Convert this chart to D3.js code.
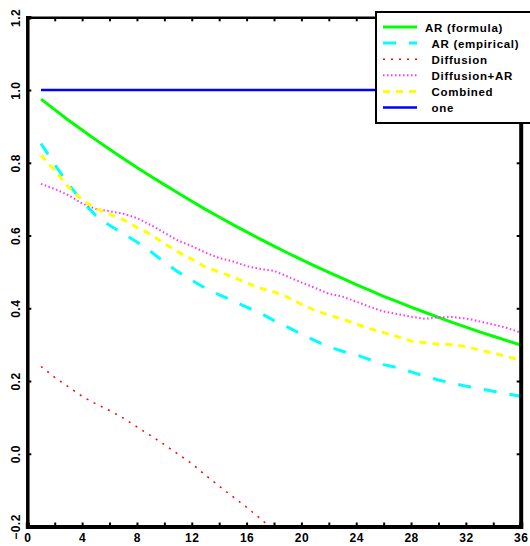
<!DOCTYPE html>
<html>
<head>
<meta charset="utf-8">
<script src="https://cdn.jsdelivr.net/npm/d3@7"></script>
<style>
body{margin:0;background:#fff;}
svg{display:block;}
text{font-family:"Liberation Sans",Arial,sans-serif;font-weight:bold;}
</style>
</head>
<body>
<div id="chart"></div>
<script>
(function(){

// data
const months = d3.range(1,37);
const arFormula = [0.975,0.946,0.917,0.890,0.863,0.837,0.812,0.787,0.763,0.740,0.717,0.694,
0.672,0.651,0.630,0.610,0.590,0.571,0.552,0.534,0.516,0.499,0.482,0.465,
0.449,0.433,0.418,0.403,0.389,0.375,0.361,0.348,0.335,0.323,0.311,0.299];
const arEmpirical = [0.853,0.795,0.742,0.694,0.655,0.628,0.605,0.582,0.556,0.527,0.500,0.477,
0.455,0.437,0.421,0.403,0.387,0.366,0.348,0.329,0.311,0.294,0.282,0.272,
0.259,0.245,0.237,0.225,0.213,0.203,0.194,0.186,0.179,0.172,0.165,0.158];
const diffusionMonths = d3.range(1,19);
const diffusion = [0.240,0.210,0.184,0.158,0.137,0.119,0.098,0.074,0.050,0.025,-0.001,-0.027,
-0.059,-0.089,-0.118,-0.147,-0.178,-0.212];
const diffusionAR = [0.742,0.728,0.711,0.688,0.673,0.667,0.660,0.648,0.629,0.608,0.586,0.571,
0.553,0.538,0.529,0.516,0.508,0.503,0.487,0.471,0.456,0.440,0.432,0.418,
0.404,0.391,0.384,0.377,0.371,0.375,0.376,0.372,0.364,0.355,0.346,0.333];
const combined = [0.821,0.779,0.733,0.698,0.674,0.659,0.644,0.622,0.603,0.578,0.555,0.535,
0.513,0.500,0.486,0.470,0.455,0.445,0.430,0.411,0.394,0.381,0.370,0.357,
0.344,0.333,0.322,0.310,0.306,0.301,0.300,0.295,0.285,0.277,0.267,0.258];
const one = months.map(()=>1);

const seriesNames = ["AR (formula)","AR (empirical)","Diffusion","Diffusion+AR","Combined","one"];
const xTicks = d3.range(0,37,2);
const yTicks = [-0.2,0,0.2,0.4,0.6,0.8,1.0,1.2];

const series = [
  {name:seriesNames[0], x:months, y:arFormula},
  {name:seriesNames[1], x:months, y:arEmpirical},
  {name:seriesNames[2], x:diffusionMonths, y:diffusion},
  {name:seriesNames[3], x:months, y:diffusionAR},
  {name:seriesNames[4], x:months, y:combined},
  {name:seriesNames[5], x:months, y:one}
];

// styles
const style = {
  "AR (formula)":  {color:"#00ff00", width:3,   dash:null},
  "AR (empirical)":{color:"#00ffff", width:3,   dash:"13,13"},
  "Diffusion":     {color:"#ff0000", width:1.5, dash:"2,6"},
  "Diffusion+AR":  {color:"#ff33ff", width:2,   dash:"1.5,2.5"},
  "Combined":      {color:"#ffff00", width:3,   dash:"7,6"},
  "one":           {color:"#0000ff", width:2.5, dash:null}
};

const width = 530, height = 546;
const svg = d3.select("#chart").append("svg")
  .attr("width",width).attr("height",height);

const x = d3.scaleLinear().domain([0,36]).range([27.3,520.7]);
const y = d3.scaleLinear().domain([-0.2,1.2]).range([526.5,17.3]);

svg.append("clipPath").attr("id","clip")
  .append("rect")
  .attr("x",x(0)).attr("y",y(1.2))
  .attr("width",x(36)-x(0)).attr("height",y(-0.2)-y(1.2));

// lines
const line = d3.line()
  .x(d=>x(d[0]))
  .y(d=>y(d[1]));

const plot = svg.append("g").attr("clip-path","url(#clip)");
series.forEach(s=>{
  const st = style[s.name];
  plot.append("path")
    .datum(s.x.map((v,i)=>[v,s.y[i]]))
    .attr("fill","none")
    .attr("stroke",st.color)
    .attr("stroke-width",st.width)
    .attr("stroke-dasharray",st.dash)
    .attr("d",line);
});

// axes
const fmtX = d=> d%4===0 ? d : "";
const gx = svg.append("g")
  .attr("transform",`translate(0,${y(-0.2)})`)
  .call(d3.axisBottom(x).tickValues(xTicks).tickFormat(fmtX).tickSize(-4).tickPadding(7));
const gxTop = svg.append("g")
  .attr("transform",`translate(0,${y(1.2)})`)
  .call(d3.axisTop(x).tickValues(xTicks).tickFormat("").tickSize(-4));
const gy = svg.append("g")
  .attr("transform",`translate(${x(0)},0)`)
  .call(d3.axisLeft(y).tickValues(yTicks).tickFormat(d3.format(".1f")).tickSize(-4).tickPadding(4));
const gyR = svg.append("g")
  .attr("transform",`translate(${x(36)},0)`)
  .call(d3.axisRight(y).tickValues(yTicks).tickFormat("").tickSize(-4));

[gx,gxTop,gy,gyR].forEach(g=>{
  g.selectAll(".tick line").attr("stroke","#000").attr("stroke-width",2);
  g.selectAll("text").attr("fill","#000").style("font-size","12px");
  g.select(".domain").attr("stroke","#000");
});
gx.select(".domain").attr("stroke-width",4);
gy.select(".domain").attr("stroke-width",3.5);
gyR.select(".domain").attr("stroke-width",4);
gxTop.select(".domain").attr("stroke-width",2.5);
gx.selectAll("text").style("letter-spacing","0.5px");

gy.selectAll("text")
  .attr("x",0).attr("y",-7).attr("dy",0)
  .attr("text-anchor","middle")
  .style("letter-spacing","0.5px")
  .attr("transform","rotate(-90)");

// legend
const lg = svg.append("g");
lg.append("rect")
  .attr("x",376).attr("y",12)
  .attr("width",170).attr("height",111)
  .attr("fill","#fff").attr("stroke","#000").attr("stroke-width",2);

const ly = d3.scalePoint().domain(seriesNames).range([27,107.5]);
seriesNames.forEach((n,i)=>{
  const st = style[n];
  lg.append("line")
    .attr("x1",383).attr("x2",417)
    .attr("y1",ly(n)).attr("y2",ly(n))
    .attr("stroke",st.color)
    .attr("stroke-width",st.width)
    .attr("stroke-dasharray",st.dash);
  lg.append("text")
    .attr("x",i===0 ? 425 : 431.5)
    .attr("y",ly(n)+4.5)
    .style("font-size","11.5px")
    .style("letter-spacing","0.7px")
    .text(n);
});

})();
</script>
</body>
</html>
